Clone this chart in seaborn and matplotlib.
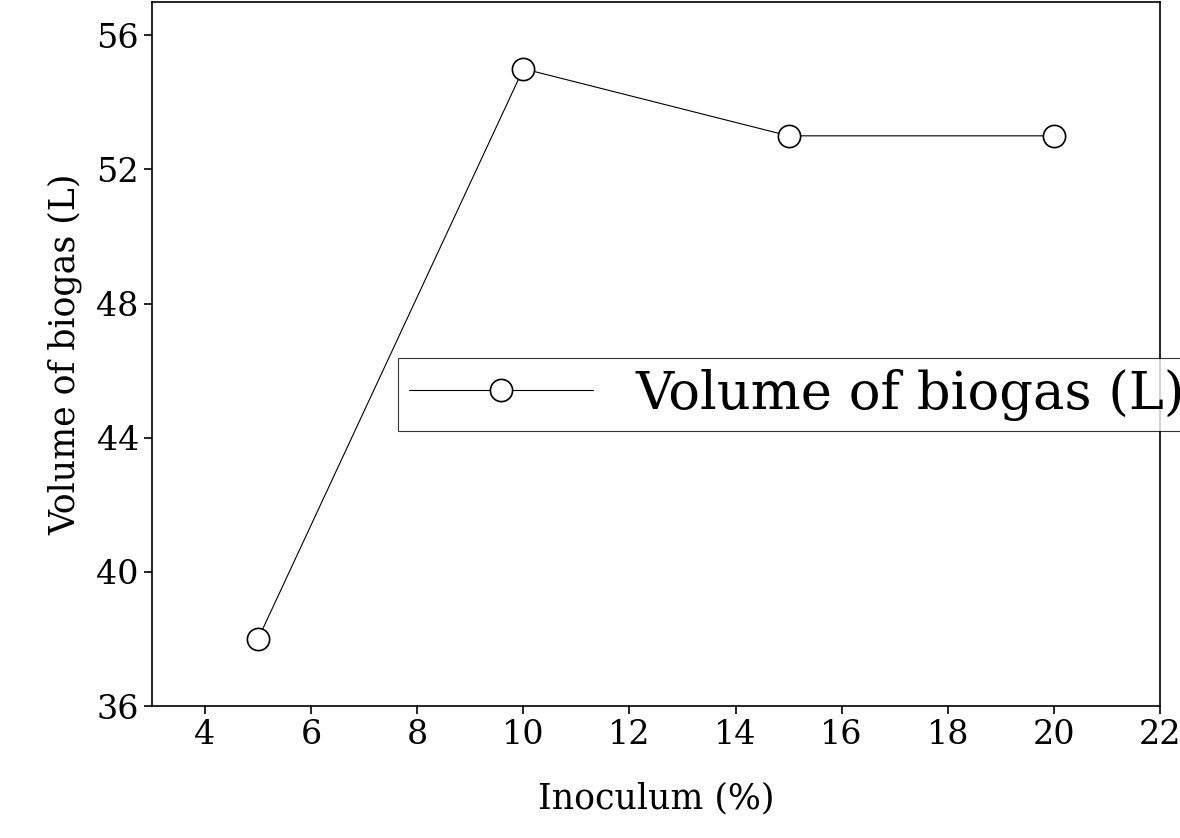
import matplotlib
matplotlib.use("Agg")
import matplotlib.pyplot as plt
import seaborn as sns
import pandas as pd

inoculum = [5, 10, 15, 20]
volume = [38, 55, 53, 53]
xticks = [4, 6, 8, 10, 12, 14, 16, 18, 20, 22]
yticks = [36, 40, 44, 48, 52, 56]

sns.set_style("ticks", rc={"font.family": "serif",
                           "font.serif": ["Liberation Serif"],
                           "text.color": "black", "axes.labelcolor": "black",
                           "xtick.color": "black", "ytick.color": "black",
                           "axes.edgecolor": "black"})
fig = plt.figure(figsize=(11.8, 8.38), dpi=100)
ax = fig.add_axes([152/1180, 1-706/838, (1160-152)/1180, 706/838 - 0.002])
df = pd.DataFrame({"x": inoculum, "y": volume})
sns.lineplot(data=df, x="x", y="y", ax=ax, color="black", linewidth=0.8,
             marker="o", markersize=16, markerfacecolor="white",
             markeredgecolor="black", markeredgewidth=1.2,
             label="Volume of biogas (L)")
ax.set_xlim(3, 22)
ax.set_ylim(36, 57)
ax.set_xticks(xticks)
ax.set_yticks(yticks)
ax.tick_params(labelsize=24, direction="out", length=6, width=1.2)
for s in ax.spines.values():
    s.set_linewidth(1.2)
ax.set_xlabel("Inoculum (%)", fontsize=25, labelpad=22)
ax.set_ylabel("Volume of biogas (L)", fontsize=25, labelpad=10)
leg = ax.legend(loc="upper left", bbox_to_anchor=(0.244, 0.494), fontsize=38,
                frameon=True, fancybox=False, edgecolor="black",
                handlelength=3.5, borderpad=0.2, borderaxespad=0)
leg.get_frame().set_linewidth(0.8)
fig.savefig("out.png", dpi=100)
